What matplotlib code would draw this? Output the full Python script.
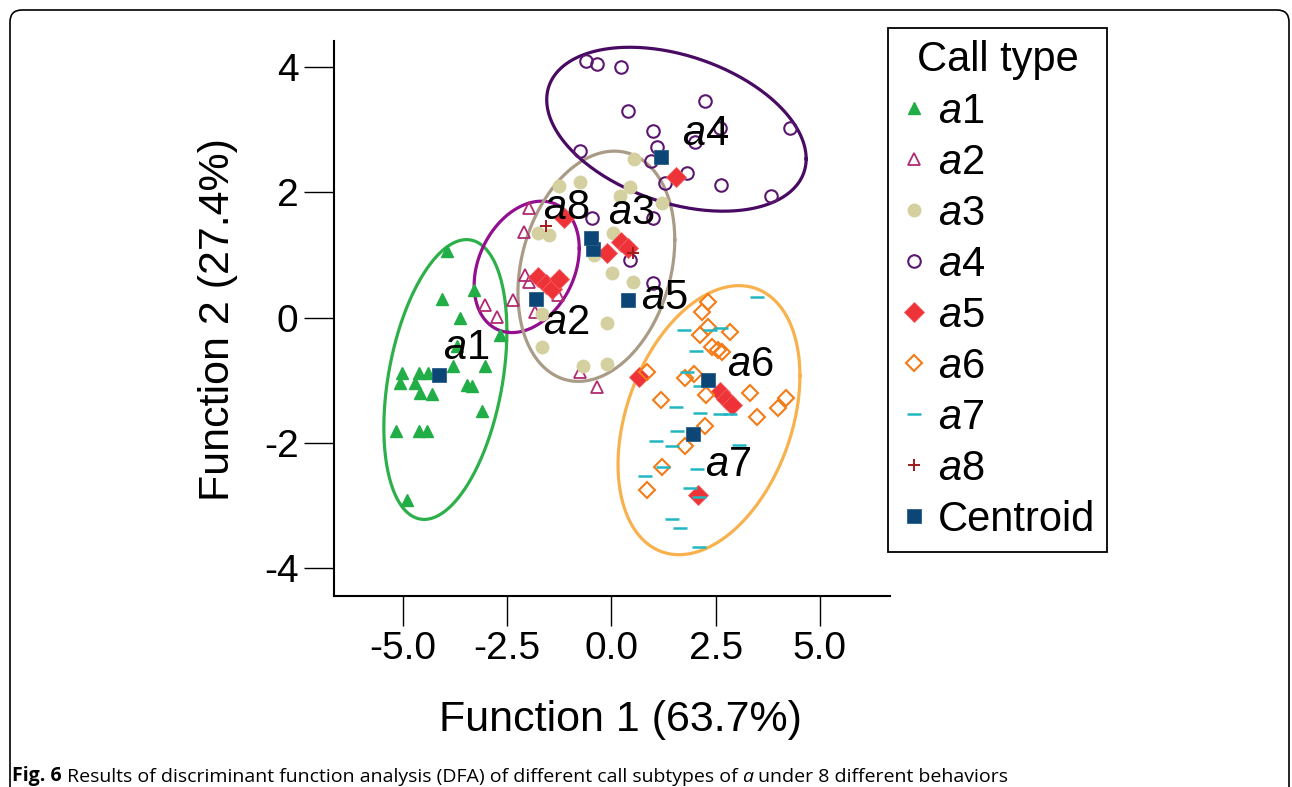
import numpy as np
import matplotlib
matplotlib.use("Agg")
import matplotlib.pyplot as plt
from matplotlib.patches import FancyBboxPatch

plt.rcParams['font.family'] = ['Liberation Sans', 'DejaVu Sans']
plt.rcParams['mathtext.fontset'] = 'custom'
plt.rcParams['mathtext.rm'] = 'Liberation Sans'
plt.rcParams['mathtext.it'] = 'Liberation Sans:italic'
plt.rcParams['axes.unicode_minus'] = False

# discriminant scores (function 1, function 2) for each call subtype
a1_x = [-3.94, -4.05, -3.30, -3.63, -2.66, -3.70, -3.79, -3.03, -5.03, -4.61, -4.39,
        -5.06, -4.71, -3.47, -3.35, -4.59, -4.31, -3.11, -5.17, -4.61, -4.42, -4.91]
a1_y = [1.07, 0.30, 0.44, -0.01, -0.28, -0.46, -0.77, -0.77, -0.88, -0.88, -0.88,
        -1.05, -1.05, -1.08, -1.09, -1.21, -1.22, -1.50, -1.82, -1.82, -1.81, -2.92]

a2_x = [-1.98, -2.10, -2.07, -1.98, -2.36, -3.03, -2.75, -1.28, -1.83, -0.76, -0.35]
a2_y = [1.75, 1.37, 0.68, 0.57, 0.28, 0.20, 0.01, 0.36, 0.09, -0.87, -1.11]

a3_x = [0.54, -1.26, -0.76, 0.44, 0.20, 1.21, -1.76, -1.50, 0.04, -0.42, 0.01,
        0.52, -1.67, -0.11, -1.67, -0.68, -0.11]
a3_y = [2.53, 2.10, 2.17, 2.09, 1.94, 1.83, 1.35, 1.32, 1.35, 1.00, 0.71,
        0.57, 0.06, -0.09, -0.47, -0.77, -0.74]

a4_x = [-0.61, -0.35, 0.23, 2.24, 4.28, 0.40, 1.00, 2.60, 2.00, 1.09, -0.76,
        0.95, 1.81, 1.28, 2.62, 3.82, -0.47, 1.00, 0.44, 1.00]
a4_y = [4.10, 4.05, 4.00, 3.46, 3.03, 3.30, 2.98, 3.03, 2.81, 2.73, 2.66,
        2.50, 2.31, 2.15, 2.12, 1.94, 1.59, 1.59, 0.92, 0.55]

a5_x = [1.55, -1.14, -1.76, -1.57, -1.43, -1.26, -0.11, 0.23, 0.40, 0.66, 2.60, 2.75, 2.89, 2.07]
a5_y = [2.25, 1.59, 0.65, 0.54, 0.46, 0.62, 1.03, 1.21, 1.11, -0.95, -1.19, -1.30, -1.40, -2.84]

a6_x = [2.31, 2.17, 2.31, 2.84, 2.12, 2.41, 2.55, 2.65, 0.85, 1.76, 1.98,
        2.27, 3.32, 1.19, 4.18, 3.99, 3.49, 2.24, 1.76, 1.21, 0.85]
a6_y = [0.25, 0.09, -0.15, -0.23, -0.28, -0.47, -0.52, -0.55, -0.87, -0.96, -0.90,
        -1.24, -1.20, -1.32, -1.28, -1.44, -1.59, -1.73, -2.05, -2.39, -2.75]

a7_x = [3.49, 1.74, 2.63, 2.36, 2.03, 1.81, 2.12, 1.55, 2.12, 2.60, 2.84, 1.57,
        1.07, 1.45, 3.06, 1.23, 2.05, 0.80, 1.88, 2.10, 1.45, 1.64, 2.10]
a7_y = [0.33, -0.20, -0.17, -0.20, -0.53, -0.87, -1.09, -1.43, -1.52, -1.54, -1.54, -1.81,
        -1.97, -2.05, -2.04, -2.39, -2.42, -2.53, -2.72, -2.86, -3.22, -3.36, -3.66]

a8_x = [-1.57, 0.52]
a8_y = [1.46, 1.03]

# group centroids, order a1..a8
cen_x = [-4.14, -1.81, -0.44, 1.19, 0.40, 2.31, 1.95, -0.49]
cen_y = [-0.92, 0.30, 1.10, 2.57, 0.28, -1.00, -1.86, 1.27]
cen_names = ['1', '2', '3', '4', '5', '6', '7', '8']
# where each group name is written
name_x = [-3.49, -1.09, 0.47, 2.26, 1.28, 3.32, 2.80, -1.09]
name_y = [-0.49, -0.09, 1.67, 2.93, 0.31, -0.76, -2.35, 1.75]

# confidence ellipses: centre, x half-extent, y half-extent, correlation
ell_cx = [-3.98, -2.03, -0.36, 1.56, 2.34]
ell_cy = [-0.99, 0.81, 0.82, 3.01, -1.64]
ell_hx = [1.475, 1.26, 1.88, 3.11, 2.18]
ell_hy = [2.236, 1.05, 1.84, 1.31, 2.15]
ell_rho = [0.344, 0.28, 0.23, -0.36, 0.33]
ell_colors = ['#2DB04A', '#930F8F', '#A99B86', '#480A62', '#F7B24D']

fig = plt.figure(figsize=(12.92, 7.87), dpi=100)
W, H = 1292, 787

# panel border with rounded top corners
border = FancyBboxPatch((0.10, -0.5), 12.79, 7.77 + 0.5,
                        boxstyle="round,pad=0,rounding_size=0.12",
                        transform=fig.dpi_scale_trans, fill=False,
                        edgecolor='black', linewidth=1.2)
fig.patches.append(border)

ax = fig.add_axes([334 / W, 191 / H, 556 / W, 555 / H])

t = np.linspace(0, 2 * np.pi, 300)
for cx, cy, hx, hy, r, c in zip(ell_cx, ell_cy, ell_hx, ell_hy, ell_rho, ell_colors):
    ex = cx + hx * np.cos(t)
    ey = cy + hy * (r * np.cos(t) + np.sqrt(1 - r * r) * np.sin(t))
    ax.plot(ex, ey, color=c, lw=2.3, zorder=1)

h1, = ax.plot(a1_x, a1_y, ls='none', marker='^', ms=9, color='#22AE46', mec='#22AE46', label='$a$1', zorder=3)
h2, = ax.plot(a2_x, a2_y, ls='none', marker='^', ms=8.5, mfc='none', mec='#B02A72', mew=1.3, label='$a$2', zorder=3)
h3, = ax.plot(a3_x, a3_y, ls='none', marker='o', ms=10, color='#D5D09F', mec='none', label='$a$3', zorder=3)
h4, = ax.plot(a4_x, a4_y, ls='none', marker='o', ms=9, mfc='none', mec='#5B1670', mew=1.5, label='$a$4', zorder=3)
h5, = ax.plot(a5_x, a5_y, ls='none', marker='D', ms=10.5, color='#EE3338', mec='#F25C5C', mew=0.6, label='$a$5', zorder=3)
h6, = ax.plot(a6_x, a6_y, ls='none', marker='D', ms=8.5, mfc='none', mec='#F47B17', mew=1.5, label='$a$6', zorder=3)
h7, = ax.plot(a7_x, a7_y, ls='none', marker='_', ms=10, mew=1.8, color='#22B6C2', label='$a$7', zorder=3)
h8, = ax.plot(a8_x, a8_y, ls='none', marker='+', ms=9, mew=1.4, color='#9E1A1E', label='$a$8', zorder=3)
hc, = ax.plot(cen_x, cen_y, ls='none', marker='s', ms=10, color='#0C4677', mec='#2A5E88', mew=0.6,
              label='Centroid', zorder=4)

for nx, ny, nm in zip(name_x, name_y, cen_names):
    ax.text(nx, ny, '$a$' + nm, fontsize=30, ha='center', va='center', zorder=5)

ax.set_xlim(-6.65, 6.68)
ax.set_ylim(-4.45, 4.42)
ax.set_xticks([-5, -2.5, 0, 2.5, 5])
ax.set_xticklabels(['-5.0', '-2.5', '0.0', '2.5', '5.0'])
ax.set_yticks([-4, -2, 0, 2, 4])
ax.set_yticklabels(['-4', '-2', '0', '2', '4'])
ax.tick_params(direction='out', length=21.5, width=1.0, labelsize=28, pad=4)
for side in ['top', 'right']:
    ax.spines[side].set_visible(False)
for side in ['left', 'bottom']:
    ax.spines[side].set_linewidth(1.5)

fig.text(620 / W, 1 - 720 / H, 'Function 1 (63.7%)', fontsize=31, ha='center', va='center')
fig.text(218 / W, 1 - 320 / H, 'Function 2 (27.4%)', fontsize=31, ha='center', va='center', rotation=90)

leg = fig.legend(handles=[h1, h2, h3, h4, h5, h6, h7, h8, hc], title='Call type',
                 loc='upper left', bbox_to_anchor=(888 / W, 1 - 28 / H),
                 bbox_transform=fig.transFigure, fontsize=30, title_fontsize=30,
                 frameon=True, fancybox=False, framealpha=1, edgecolor='black',
                 borderpad=0.3, labelspacing=0.265, handlelength=0.65,
                 handletextpad=0.24, borderaxespad=0, numpoints=1)
leg.get_frame().set_linewidth(1.3)

# caption: bold figure number, regular text, italic call name
cap_font = ['Open Sans', 'DejaVu Sans']
cap_size = 14
c1 = fig.text(12 / W, 1 - 781 / H, 'Fig. 6', fontsize=cap_size, fontweight='bold',
              family=cap_font, ha='left', va='baseline')
c2 = ax.annotate(' Results of discriminant function analysis (DFA) of different call subtypes of ',
                 xy=(1, 0), xycoords=c1, fontsize=cap_size, family=cap_font,
                 ha='left', va='bottom', annotation_clip=False)
c3 = ax.annotate('a', xy=(1, 0), xycoords=c2, fontsize=cap_size, family=cap_font, style='italic',
                 ha='left', va='bottom', annotation_clip=False)
ax.annotate(' under 8 different behaviors', xy=(1, 0), xycoords=c3, fontsize=cap_size,
            family=cap_font, ha='left', va='bottom', annotation_clip=False)

fig.savefig('out.png', dpi=100)
